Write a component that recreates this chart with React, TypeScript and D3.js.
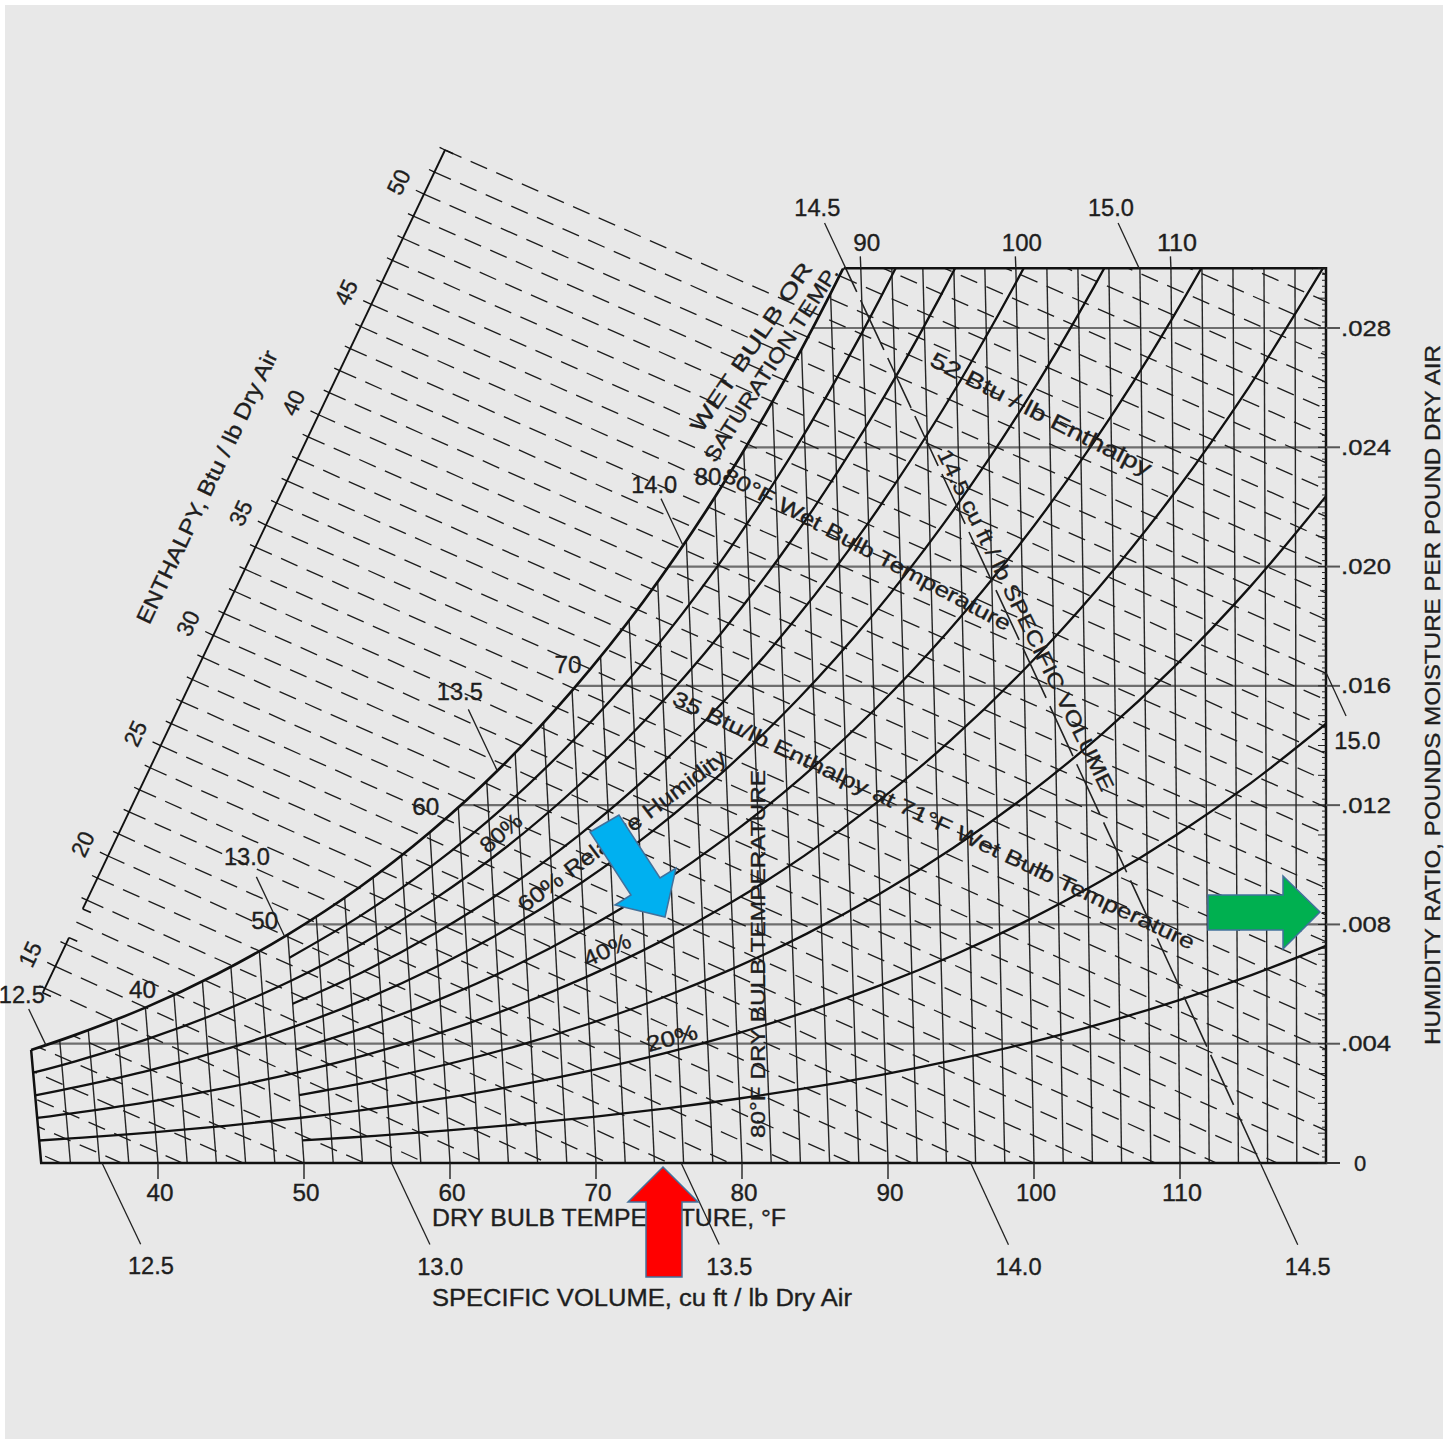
import React from "react";
import * as d3 from "d3";

// ---------- values ----------
const satTemps = [32, 35, 40, 45, 50, 55, 60, 65, 70, 75, 80, 85, 90, 95, 100, 105, 110, 115, 120];
const satHumidity = [0.00379, 0.00428, 0.00521, 0.00633, 0.00766, 0.00923, 0.01109, 0.01327, 0.01584, 0.01883, 0.02233, 0.0264, 0.03114, 0.03666, 0.04307, 0.05053, 0.05924, 0.06943, 0.08136];
const rhFromFreezing = [20, 40, 60, 80];
const rhFromFifty = [10, 30, 50, 70, 90];
const dryBulbTicks = [40, 50, 60, 70, 80, 90, 100, 110];
const dryBulbTopTicks = [90, 100, 110];
const humidityTicks = [0, 0.004, 0.008, 0.012, 0.016, 0.02, 0.024, 0.028];
const enthalpyScaleLabels = [15, 20, 25, 30, 35, 40, 45, 50];
const enthalpyFromScale = [14, 15, 16, 17, 18, 19, 20, 21, 22, 23, 24, 25, 26, 27, 28, 29, 30, 31, 32, 33, 34, 35, 36, 37, 38, 39, 40, 41, 42, 43, 44, 45, 46, 47, 48, 49, 50, 51, 52];
const enthalpyInChart = [8, 9, 10, 11, 12, 13, 53, 54, 55, 56, 57, 58, 59, 60, 61, 62];
const volumeBottom = [12.5, 13.0, 13.5, 14.0, 14.5];
const volumeSaturation = [12.5, 13.0, 13.5, 14.0];
const volumeTop = [14.5, 15.0];
const volumeRight = [15.0];
const satTempLabels = [40, 50, 60, 70, 80];
const exampleVolume = 14.5;

// ---------- chart geometry ----------
const P_ATM = 14.696;
const W_TOP = 0.03;
const SKEW = 2.07;
const xBase = d3.scaleLinear().domain([40, 110]).range([158, 1180]);
const yW = d3.scaleLinear().domain([0, 0.028]).range([1163, 328]);
const XR = xBase(120);
const YB = yW(0);
const YT = yW(W_TOP);

type Pt = [number, number];
function pt(T: number, w: number): Pt {
  const x = XR - (XR - xBase(T)) * (1 + SKEW * w);
  return [x, yW(w)];
}
function wsatAt(T: number): number {
  let i = d3.bisectRight(satTemps, T) - 1;
  i = Math.max(0, Math.min(satTemps.length - 2, i));
  const t = (T - satTemps[i]) / (satTemps[i + 1] - satTemps[i]);
  return Math.exp(Math.log(satHumidity[i]) * (1 - t) + Math.log(satHumidity[i + 1]) * t);
}
function rhW(ws: number, rh: number): number {
  const r = (ws / (0.622 + ws)) * (rh / 100);
  return (0.622 * r) / (1 - r);
}
function enthT(h: number, w: number): number {
  return (h - 1061 * w) / (0.24 + 0.444 * w);
}
function volT(v: number, w: number): number {
  return (v * P_ATM) / (0.370486 * (1 + 1.6078 * w)) - 459.67;
}
function volSatW(v: number): number {
  const k = (v * P_ATM) / 0.370486;
  let lo = 30, hi = 110;
  for (let i = 0; i < 60; i++) {
    const m = (lo + hi) / 2;
    const f = (m + 459.67) * (1 + 1.6078 * wsatAt(m)) - k;
    if (f > 0) hi = m; else lo = m;
  }
  return wsatAt((lo + hi) / 2);
}
function volUp(v: number, w: number): Pt {
  const a = pt(volT(v, w), w);
  const b = pt(volT(v, w + 0.002), w + 0.002);
  const dx = b[0] - a[0], dy = b[1] - a[1];
  const L = Math.hypot(dx, dy);
  return [dx / L, dy / L];
}

// enthalpy diagonal scale anchors (h = 20 and h = 52)
const SA: Pt = [108, 856];
const SB: Pt = [445, 150];
function scaleP(h: number): Pt {
  const t = (h - 20) / 32;
  return [SA[0] + t * (SB[0] - SA[0]), SA[1] + t * (SB[1] - SA[1])];
}
const su: Pt = (() => {
  const dx = SB[0] - SA[0], dy = SB[1] - SA[1], L = Math.hypot(dx, dy);
  return [dx / L, dy / L];
})();
const sn: Pt = [su[1], -su[0]]; // outward normal (up-left)
const scaleAngle = (Math.atan2(su[1], su[0]) * 180) / Math.PI;

const FONT = "'Liberation Sans', Arial, Helvetica, sans-serif";
const INK = "#1d1d1d";

const curve = d3.line<Pt>().curve(d3.curveCatmullRom.alpha(0.5));
const straight = d3.line<Pt>();

function T({ x, y, s = 20, a = 0, anchor = "middle", len, children }: any) {
  return (
    <text
      x={x}
      y={y}
      fontSize={s}
      textAnchor={anchor}
      dominantBaseline="central"
      transform={a ? `rotate(${a} ${x} ${y})` : undefined}
      textLength={len}
      lengthAdjust={len ? "spacingAndGlyphs" : undefined}
    >
      {children}
    </text>
  );
}

export default function App() {
  const satPts: Pt[] = satTemps.filter((t) => t <= 95).map((t, i) => pt(t, satHumidity[i]));
  const left0 = pt(32, 0);
  const underSat =
    curve(satPts) +
    `L2000,${satPts[satPts.length - 1][1]}L2000,1400L${left0[0]},1400L${left0[0]},${YB}Z`;

  const rhCurves = [
    ...rhFromFreezing.map((rh) => ({ rh, temps: satTemps })),
    ...rhFromFifty.map((rh) => ({ rh, temps: satTemps.filter((t) => t >= 50) })),
  ].map(({ rh, temps }) =>
    temps.map((t) => pt(t, rhW(satHumidity[satTemps.indexOf(t)], rh)))
  );

  // enthalpy lines from the diagonal scale
  const hScaleLines = enthalpyFromScale.map((h) => {
    const P = scaleP(h);
    const Q = pt(enthT(h, 0), 0);
    let E: Pt = Q;
    if (Q[0] > XR) {
      const t = (XR - P[0]) / (Q[0] - P[0]);
      E = [XR, P[1] + t * (Q[1] - P[1])];
    }
    return [P, E] as Pt[];
  });
  const hChartLines = enthalpyInChart.map((h) => {
    const A = pt(enthT(h, 0), 0);
    const B = pt(enthT(h, 0.03), 0.03);
    const dx = B[0] - A[0], dy = B[1] - A[1];
    return [[A[0] - dx * 2, A[1] - dy * 2], [A[0] + dx * 3, A[1] + dy * 3]] as Pt[];
  });

  const dbGrid = d3.range(34, 120, 2);
  const rightTicks = d3.range(0, 151).map((i) => i * 0.0002);

  const exVol: Pt[] = [0, 0.008, 0.016, 0.024, 0.032].map((w) => pt(volT(exampleVolume, w), w));

  // volume leaders
  const satLeader = [40, 66, 68, 52];
  const satLabelDist = [56, 88, 88, 68];
  const volLeaders: { a: Pt; b: Pt; l: Pt; v: number }[] = [];
  volumeBottom.forEach((v) => {
    const p = pt(volT(v, 0), 0);
    const u = volUp(v, 0);
    volLeaders.push({ v, a: p, b: [p[0] - u[0] * 90, p[1] - u[1] * 90], l: [p[0] - u[0] * 114, p[1] - u[1] * 114] });
  });
  volumeSaturation.forEach((v, i) => {
    const w = volSatW(v);
    const p = pt(volT(v, w), w);
    const u = volUp(v, w);
    volLeaders.push({ v, a: p, b: [p[0] + u[0] * satLeader[i], p[1] + u[1] * satLeader[i]], l: [p[0] + u[0] * satLabelDist[i], p[1] + u[1] * satLabelDist[i]] });
  });
  volumeTop.forEach((v) => {
    const p = pt(volT(v, W_TOP), W_TOP);
    const u = volUp(v, W_TOP);
    volLeaders.push({ v, a: p, b: [p[0] + u[0] * 50, p[1] + u[1] * 50], l: [p[0] + u[0] * 67, p[1] + u[1] * 67] });
  });
  volumeRight.forEach((v) => {
    const k = (v * P_ATM) / 0.370486;
    const w = (k / (120 + 459.67) - 1) / 1.6078;
    const p = pt(120, w);
    const u = volUp(v, w);
    volLeaders.push({ v, a: p, b: [p[0] - u[0] * 48, p[1] - u[1] * 48], l: [p[0] - u[0] * 75, p[1] - u[1] * 75] });
  });

  const satLabelOffset: Record<number, Pt> = { 40: [-3, -18], 50: [-23, -14], 60: [-4, -25], 70: [-4, -26], 80: [-7, -20] };

  const topSat = pt(88.9, W_TOP);
  const boundary =
    `M${pt(32, wsatAt(32))[0]},${pt(32, wsatAt(32))[1]}L${left0[0]},${YB}L${XR},${YB}L${XR},${YT}L${topSat[0]},${YT}`;

  const mainSeg: Pt[] = [scaleP(17.6), scaleP(52)];
  const lowSeg: Pt[] = [scaleP(13.8), scaleP(16.3)];
  const hdir = (() => {
    const d = hScaleLines[20];
    const dx = d[1][0] - d[0][0], dy = d[1][1] - d[0][1], L = Math.hypot(dx, dy);
    return [dx / L, dy / L] as Pt;
  })();

  return (
    <svg width={1450} height={1444} style={{ position: "absolute", left: 0, top: 0 }} fontFamily={FONT}>
      <defs>
        <clipPath id="box">
          <rect x={0} y={YT} width={XR} height={YB - YT} />
        </clipPath>
        <clipPath id="under">
          <path d={underSat} />
        </clipPath>
        <clipPath id="lowerRight">
          <rect x={-100} y={-100} width={XR + 100} height={YB + 100} />
        </clipPath>
      </defs>
      <rect x={0} y={0} width={1450} height={1444} fill="#ffffff" />
      <rect x={5} y={5} width={1438} height={1434} fill="#e8e8e8" />

      {/* grid inside region */}
      <g clipPath="url(#box)">
        <g clipPath="url(#under)">
          {humidityTicks.filter((w) => w > 0).map((w) => (
            <line key={"h" + w} x1={0} x2={XR} y1={yW(w)} y2={yW(w)} stroke="#6e6e6e" strokeWidth={2.2} />
          ))}
          {dbGrid.map((t) => {
            const a = pt(t, 0), b = pt(t, 0.032);
            return <line key={"v" + t} x1={a[0]} y1={a[1]} x2={b[0]} y2={b[1]} stroke="#262626" strokeWidth={1.4} />;
          })}
          {hChartLines.map((d, i) => (
            <path key={"hc" + i} d={straight(d)!} fill="none" stroke={INK} strokeWidth={1.35} strokeDasharray="18 10" />
          ))}
        </g>
      </g>
      <g clipPath="url(#lowerRight)">
        {hScaleLines.map((d, i) => (
          <path key={"hs" + i} d={straight(d)!} fill="none" stroke={INK} strokeWidth={1.35} strokeDasharray="18 10" />
        ))}
      </g>

      {/* relative humidity and saturation curves */}
      <g clipPath="url(#box)">
        {rhCurves.map((c, i) => (
          <path key={"rh" + i} d={curve(c)!} fill="none" stroke="#111" strokeWidth={2.3} />
        ))}
        <path d={curve(satPts)!} fill="none" stroke="#111" strokeWidth={2.7} />
        <path d={straight(exVol)!} fill="none" stroke="#222" strokeWidth={1.6} strokeDasharray="55 9" />
      </g>

      {/* boundary */}
      <path d={boundary} fill="none" stroke="#111" strokeWidth={2.5} />
      {humidityTicks.filter((w) => w > 0).map((w) => (
        <line key={"rt" + w} x1={XR} x2={1340} y1={yW(w)} y2={yW(w)} stroke="#555" strokeWidth={2} />
      ))}
      <line x1={XR} x2={1340} y1={YB} y2={YB} stroke="#333" strokeWidth={2} />
      {rightTicks.map((w, i) => (
        <line key={"mt" + i} x1={XR} x2={XR - (i % 5 === 0 ? 8 : 4)} y1={yW(w)} y2={yW(w)} stroke="#222" strokeWidth={1} />
      ))}
      {dryBulbTicks.map((t) => {
        const a = pt(t, 0);
        return <line key={"bt" + t} x1={a[0]} x2={a[0]} y1={YB} y2={YB + 16} stroke="#222" strokeWidth={1.4} />;
      })}
      {dryBulbTopTicks.map((t) => {
        const a = pt(t, W_TOP);
        return <line key={"tt" + t} x1={a[0]} x2={a[0] - 0.5} y1={YT} y2={YT - 12} stroke="#222" strokeWidth={1.4} />;
      })}

      {/* enthalpy scale */}
      {[mainSeg, lowSeg].map((s, i) => (
        <g key={"seg" + i}>
          <path d={straight(s)!} stroke="#111" strokeWidth={1.9} fill="none" />
          {s.map((p, j) => (
            <line key={j} x1={p[0]} y1={p[1]} x2={p[0] + hdir[0] * 9} y2={p[1] + hdir[1] * 9} stroke="#111" strokeWidth={1.6} />
          ))}
        </g>
      ))}
      {enthalpyFromScale.filter((h) => h !== 17).map((h) => {
        const p = scaleP(h);
        const L = h % 5 === 0 ? 9 : 6;
        return <line key={"st" + h} x1={p[0]} y1={p[1]} x2={p[0] + sn[0] * L} y2={p[1] + sn[1] * L} stroke="#111" strokeWidth={1.3} />;
      })}

      {/* volume leaders */}
      {volLeaders.map((d, i) => (
        <line key={"vl" + i} x1={d.a[0]} y1={d.a[1]} x2={d.b[0]} y2={d.b[1]} stroke="#222" strokeWidth={1.3} />
      ))}

      <g fill="#1e1e1e" stroke="#1e1e1e" strokeWidth={0.35}>
        {volLeaders.map((d, i) => (
          <T key={"vt" + i} x={d.l[0]} y={d.l[1]} s={24} len={46}>{d.v.toFixed(1)}</T>
        ))}
        {enthalpyScaleLabels.map((h) => {
          const p = scaleP(h);
          return (
            <T key={"el" + h} x={p[0] + sn[0] * 28} y={p[1] + sn[1] * 28} s={23} a={scaleAngle} len={25}>{h}</T>
          );
        })}
        {satTempLabels.map((t) => {
          const p = pt(t, wsatAt(t));
          const o = satLabelOffset[t];
          return <T key={"sl" + t} x={p[0] + o[0]} y={p[1] + o[1]} s={23} len={27}>{t}</T>;
        })}
        {dryBulbTicks.map((t) => (
          <T key={"bl" + t} x={pt(t, 0)[0] + 2} y={1193} s={23} len={t >= 100 ? 40 : 27}>{t}</T>
        ))}
        {dryBulbTopTicks.map((t) => (
          <T key={"tl" + t} x={pt(t, W_TOP)[0] + 6} y={243} s={23} len={t >= 100 ? 40 : 27}>{t}</T>
        ))}
        {humidityTicks.map((w) => (
          <T key={"wl" + w} x={w === 0 ? 1354 : 1341} y={yW(w)} s={22} anchor="start" len={w === 0 ? undefined : 50}>
            {w === 0 ? "0" : d3.format(".3f")(w).replace(/^0/, "")}
          </T>
        ))}

        <T x={432} y={1218} s={23} anchor="start" len={354}>DRY BULB TEMPERATURE, °F</T>
        <T x={432} y={1298} s={23} anchor="start" len={420}>SPECIFIC VOLUME, cu ft / lb Dry Air</T>
        <T x={1432} y={695} s={22} a={-90} len={700}>HUMIDITY RATIO, POUNDS MOISTURE PER POUND DRY AIR</T>
        <T x={207} y={487} s={22} a={scaleAngle} len={300}>ENTHALPY, Btu / lb Dry Air</T>

        <T x={751} y={347} s={21} a={-56} len={200}>WET BULB OR</T>
        <T x={771} y={364} s={21} a={-57} len={228}>SATURATION TEMP.</T>
        <T x={1041} y={414} s={22} a={27} len={245}>52 Btu / lb Enthalpy</T>
        <T x={1026} y={620} s={21} a={64} len={377}>14.5 cu ft / lb SPECIFIC VOLUME</T>
        <T x={867} y={549} s={21} a={28} len={323}>80°F Wet Bulb Temperature</T>
        <T x={934} y={820} s={21} a={25.4} len={575}>35 Btu/lb Enthalpy at 71°F Wet Bulb Temperature</T>
        <T x={757} y={954} s={21} a={-90} len={368}>80°F DRY BULB TEMPERATURE</T>

        <T x={501} y={833} s={22} a={-40} len={48}>80%</T>
        <T x={622} y={831} s={22} a={-36.8} len={254}>60% Relative Humidity</T>
        <T x={607} y={950} s={22} a={-25} len={50}>40%</T>
        <T x={672} y={1038} s={22} a={-15} len={52}>20%</T>
      </g>

      {/* annotation arrows */}
      <polygon
        points="590,832 619,815 660,878 676,868 665,917 615,905 631,895"
        fill="#00b0f0"
        stroke="#41719c"
        strokeWidth={1.5}
      />
      <polygon
        points="1208,895 1283,895 1283,876 1320,912 1283,949 1283,930 1208,930"
        fill="#00b050"
        stroke="#41719c"
        strokeWidth={1.5}
      />
      <polygon
        points="663,1167 698,1202 682,1202 682,1277 646,1277 646,1202 628,1202"
        fill="#ff0000"
        stroke="#41719c"
        strokeWidth={1.5}
      />
    </svg>
  );
}
